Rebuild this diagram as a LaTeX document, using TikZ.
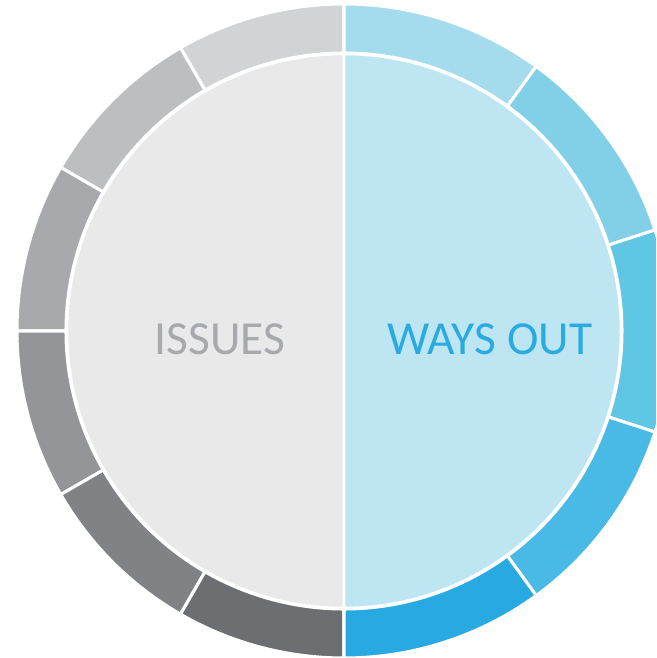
\documentclass[tikz,border=0pt]{standalone}
\usepackage{fontspec}
\setmainfont{Carlito}
\usetikzlibrary{calc}

\definecolor{grayA}{HTML}{D1D3D4}
\definecolor{grayB}{HTML}{BCBEC0}
\definecolor{grayC}{HTML}{A7A9AC}
\definecolor{grayD}{HTML}{939598}
\definecolor{grayE}{HTML}{808285}
\definecolor{grayF}{HTML}{6D6E71}
\definecolor{blueA}{HTML}{A4DCED}
\definecolor{blueB}{HTML}{81D0E7}
\definecolor{blueC}{HTML}{5FC6E4}
\definecolor{blueD}{HTML}{49BAE5}
\definecolor{blueE}{HTML}{28A9E1}
\definecolor{issuesbg}{HTML}{E9E9EA}
\definecolor{waysbg}{HTML}{BEE5F2}
\definecolor{issuestext}{HTML}{A7A9AC}
\definecolor{waystext}{HTML}{29ABE2}

\tikzset{
  segment/.style={draw=white,line width=2.6pt,line join=miter},
  half/.style={draw=white,line width=2.2pt},
  label/.style={font=\fontsize{40.5}{42}\selectfont,inner sep=0pt}
}

\begin{document}
\begin{tikzpicture}[scale=0.03]
\useasboundingbox (-344,-327) rectangle (312,331);
\clip (-344,-327) rectangle (312,331);

% outer ring, left half
\foreach \a/\c in {90/grayA,120/grayB,150/grayC,180/grayD,210/grayE,240/grayF}
  \filldraw[segment,fill=\c] (\a:278) arc[start angle=\a,end angle=\a+30,radius=278]
    -- (\a+30:327) arc[start angle=\a+30,end angle=\a,radius=327] -- cycle;

% outer ring, right half
\foreach \a/\c in {90/blueA,54/blueB,18/blueC,-18/blueD,-54/blueE}
  \filldraw[segment,fill=\c] (\a:278) arc[start angle=\a,end angle=\a-36,radius=278]
    -- (\a-36:327) arc[start angle=\a-36,end angle=\a,radius=327] -- cycle;

% inner halves
\filldraw[half,fill=issuesbg] (0,277) arc[start angle=90,end angle=270,radius=277] -- cycle;
\filldraw[half,fill=waysbg] (0,277) arc[start angle=90,end angle=-90,radius=277] -- cycle;

\node[label,text=issuestext] (issues) at (-124,-8) {ISSUES};
\node[label,text=waystext] (waysout) at (146,-8) {WAYS OUT};
\end{tikzpicture}
\end{document}
